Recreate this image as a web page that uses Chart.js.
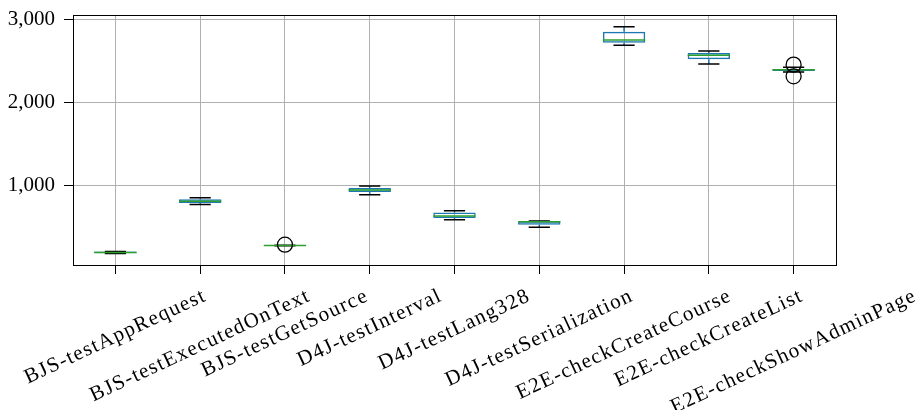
<!DOCTYPE html>
<html>
<head>
<meta charset="utf-8">
<script src="https://cdn.jsdelivr.net/npm/chart.js@4"></script>
<style>
  html, body { margin: 0; padding: 0; background: #ffffff; }
  #wrap { width: 923px; height: 410px; }
</style>
</head>
<body>
<div id="wrap"><canvas id="c" width="923" height="410"></canvas></div>
<script>
// ---- data ----
const categories = [
  'BJS-testAppRequest',
  'BJS-testExecutedOnText',
  'BJS-testGetSource',
  'D4J-testInterval',
  'D4J-testLang328',
  'D4J-testSerialization',
  'E2E-checkCreateCourse',
  'E2E-checkCreateList',
  'E2E-checkShowAdminPage'
];
const whiskerLow  = [182, 774, 274, 891, 590, 498, 2694, 2470, 2373];
const q1Values    = [184, 790, 276, 925, 609, 528, 2726, 2525, 2385];
const medians     = [193, 811, 277, 949, 633, 565, 2759, 2573, 2398];
const q3Values    = [205, 835, 278, 973, 678, 570, 2859, 2602, 2408];
const whiskerHigh = [207, 855, 280, 995, 698, 574, 2919, 2626, 2429];
const outlierCategories = ['BJS-testGetSource', 'E2E-checkShowAdminPage', 'E2E-checkShowAdminPage'];
const outlierValues     = [288, 2461, 2320];
const yTickValues = [1000, 2000, 3000];

// ---- styling ----
const FONT = '"Liberation Serif", "Times New Roman", serif';
const FONT_SIZE = 21;
const BLUE = '#1f77b4';
const GREEN = '#2ca02c';
const GRID = '#b0b0b0';

const boxParts = {
  id: 'boxParts',
  afterDatasetDraw(chart, args) {
    if (args.index !== 0) return;
    const ctx = chart.ctx;
    const xs = chart.scales.x, ys = chart.scales.y;
    const meta = chart.getDatasetMeta(0);
    ctx.save();
    ctx.lineWidth = 1.5;
    categories.forEach((c, i) => {
      const x = xs.getPixelForValue(i);
      const bw = meta.data[i].width;
      const capHalf = bw / 4;
      const yLo = ys.getPixelForValue(whiskerLow[i]);
      const yQ1 = ys.getPixelForValue(q1Values[i]);
      const yQ3 = ys.getPixelForValue(q3Values[i]);
      const yHi = ys.getPixelForValue(whiskerHigh[i]);
      const yMed = ys.getPixelForValue(medians[i]);
      // whiskers
      ctx.strokeStyle = BLUE;
      ctx.beginPath();
      ctx.moveTo(x, yQ1); ctx.lineTo(x, yLo);
      ctx.moveTo(x, yQ3); ctx.lineTo(x, yHi);
      ctx.stroke();
      // caps
      ctx.strokeStyle = '#000000';
      ctx.beginPath();
      ctx.moveTo(x - capHalf, yLo); ctx.lineTo(x + capHalf, yLo);
      ctx.moveTo(x - capHalf, yHi); ctx.lineTo(x + capHalf, yHi);
      ctx.stroke();
      // median
      ctx.strokeStyle = GREEN;
      ctx.beginPath();
      ctx.moveTo(x - bw / 2, yMed); ctx.lineTo(x + bw / 2, yMed);
      ctx.stroke();
    });
    ctx.restore();
  }
};

const frameAndLabels = {
  id: 'frameAndLabels',
  afterDraw(chart) {
    const ctx = chart.ctx;
    const a = chart.chartArea;
    const xs = chart.scales.x;
    ctx.save();
    ctx.strokeStyle = '#000000';
    ctx.lineWidth = 1;
    ctx.strokeRect(Math.round(a.left) + 0.5, Math.round(a.top) + 0.5,
                   Math.round(a.right - a.left), Math.round(a.bottom - a.top));
    // rotated, centre-aligned category labels
    ctx.font = FONT_SIZE + 'px ' + FONT;
    ctx.letterSpacing = '1.35px';
    ctx.fillStyle = '#000000';
    ctx.textAlign = 'center';
    ctx.textBaseline = 'middle';
    const ang = 25 * Math.PI / 180;
    const h = FONT_SIZE * 1.15;
    const yTop = a.bottom + 9 + 10;
    categories.forEach((c, i) => {
      const x = xs.getPixelForTick(i);
      const w = ctx.measureText(c).width;
      const H = w * Math.sin(ang) + h * Math.cos(ang);
      ctx.save();
      ctx.translate(x, yTop + H / 2);
      ctx.rotate(-ang);
      ctx.fillText(c, 0, 0);
      ctx.restore();
    });
    ctx.restore();
  }
};

new Chart(document.getElementById('c'), {
  type: 'bar',
  data: {
    labels: categories,
    datasets: [
      {
        type: 'bar',
        order: 2,
        data: categories.map((c, i) => [q1Values[i], q3Values[i]]),
        backgroundColor: 'rgba(0,0,0,0)',
        borderColor: BLUE,
        borderWidth: 1.5,
        borderSkipped: false,
        barPercentage: 0.5,
        categoryPercentage: 1.0
      },
      {
        type: 'scatter',
        order: 1,
        data: outlierCategories.map((c, i) => ({ x: c, y: outlierValues[i] })),
        pointStyle: 'circle',
        pointRadius: 7.5,
        pointBorderColor: '#000000',
        pointBackgroundColor: 'rgba(0,0,0,0)',
        pointBorderWidth: 1.3,
        showLine: false
      }
    ]
  },
  options: {
    responsive: false,
    devicePixelRatio: 1,
    animation: false,
    layout: { padding: { top: 15, right: 87, left: 0, bottom: 0 } },
    plugins: { legend: { display: false }, tooltip: { enabled: false } },
    scales: {
      x: {
        type: 'category',
        offset: true,
        grid: { display: true, offset: false, color: GRID, lineWidth: 1, tickLength: 9, tickColor: '#000000', drawTicks: true },
        border: { display: true, color: '#000000', width: 1 },
        ticks: { display: false },
        afterFit(scale) {
          scale.height = 145;
          scale.paddingLeft = 0; scale.paddingRight = 0;
        }
      },
      y: {
        min: 43,
        max: 3060,
        grid: { color: GRID, lineWidth: 1, tickLength: 9, tickColor: '#000000', drawTicks: true },
        border: { display: true, color: '#000000', width: 1 },
        afterBuildTicks(scale) { scale.ticks = yTickValues.map(v => ({ value: v })); },
        ticks: {
          color: '#000000',
          padding: 9,
          font: { family: FONT, size: FONT_SIZE },
          callback: (v) => Number(v).toLocaleString('en-US')
        },
        afterFit(scale) {
          scale.width = 73;
          scale.paddingTop = 0; scale.paddingBottom = 0;
        }
      }
    }
  },
  plugins: [boxParts, frameAndLabels]
});
</script>
</body>
</html>
